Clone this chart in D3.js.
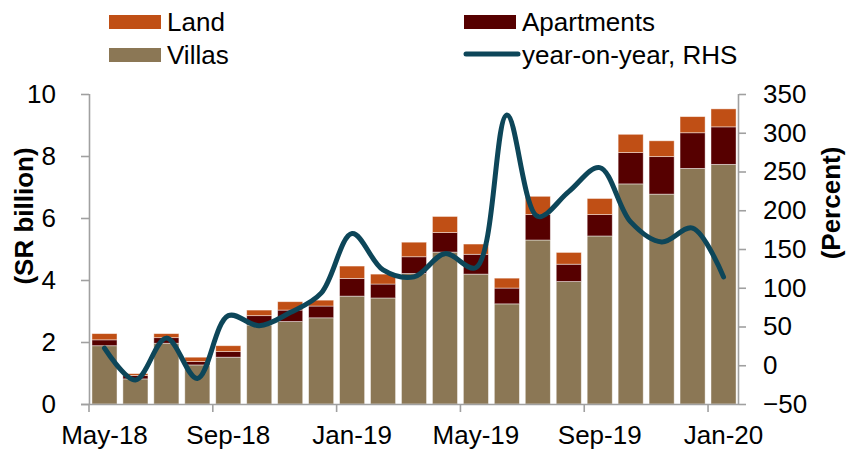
<!DOCTYPE html>
<html><head><meta charset="utf-8">
<script src="https://cdn.jsdelivr.net/npm/d3@7/dist/d3.min.js"></script>
<style>
body{margin:0;background:#fff;}
text{font-family:"Liberation Sans",Arial,sans-serif;fill:#000;}
</style></head>
<body><svg id="c" width="850" height="452"></svg>
<script>
const months = ["May-18","Jun-18","Jul-18","Aug-18","Sep-18","Oct-18","Nov-18","Dec-18","Jan-19","Feb-19","Mar-19","Apr-19","May-19","Jun-19","Jul-19","Aug-19","Sep-19","Oct-19","Nov-19","Dec-19","Jan-20"];
const villas = [1.88,0.81,1.96,1.26,1.51,2.55,2.66,2.78,3.48,3.42,4.21,4.90,4.19,3.23,5.29,3.95,5.42,7.10,6.77,7.60,7.73];
const apartments = [0.19,0.11,0.18,0.11,0.18,0.30,0.37,0.38,0.57,0.45,0.54,0.63,0.64,0.51,0.82,0.56,0.69,1.01,1.21,1.15,1.21];
const land = [0.20,0.06,0.13,0.14,0.19,0.18,0.27,0.19,0.40,0.32,0.47,0.52,0.33,0.32,0.59,0.38,0.52,0.59,0.51,0.52,0.58];
const yoy = [22,-19,35,-17,64,51,68,93,170,123,114,144,126,323,192,224,255,185,159,177,114];
const leftTicks = [0,2,4,6,8,10];
const rightTicks = [-50,0,50,100,150,200,250,300,350];
const xLabels = ["May-18","Sep-18","Jan-19","May-19","Sep-19","Jan-20"];

const colors = {Villas:"#8b7755", Apartments:"#560000", Land:"#c04f15", line:"#0d4659"};
const fs = 26;
const svg = d3.select("#c");
const L = 89, R = 739, T = 94, B = 404;

const pad = 0.19;
const x = d3.scaleBand().domain(months).range([L, R]).paddingInner(pad).paddingOuter(pad/2);
const yL = d3.scaleLinear().domain([0,10]).range([B, T]);
const yR = d3.scaleLinear().domain([-50,350]).range([B, T]);

const table = months.map((m,i)=>({month:m, Villas:villas[i], Apartments:apartments[i], Land:land[i]}));
const keys = ["Villas","Apartments","Land"];
const stack = d3.stack().keys(keys)(table);

svg.append("g").selectAll("g").data(stack).join("g")
  .attr("fill", d=>colors[d.key])
  .selectAll("rect").data(d=>d).join("rect")
  .attr("x", d=>x(d.data.month))
  .attr("width", x.bandwidth())
  .attr("y", d=>yL(d[1]))
  .attr("height", d=>yL(d[0])-yL(d[1]))
  .attr("stroke","rgba(255,255,255,0.55)")
  .attr("stroke-width",0.8);

// axes
const axisColor = "#a0a0a0";
const gl = svg.append("g").attr("transform",`translate(${L},0)`)
  .call(d3.axisLeft(yL).tickValues(leftTicks).tickSize(8).tickSizeOuter(0).tickPadding(25));
const gr = svg.append("g").attr("transform",`translate(${R},0)`)
  .call(d3.axisRight(yR).tickValues(rightTicks).tickSize(7).tickSizeOuter(0).tickPadding(17));
[gl,gr].forEach(g=>{
  g.selectAll("path,line").attr("stroke",axisColor).attr("stroke-width",1.6);
  g.selectAll("text").attr("font-size",fs).attr("font-family","Liberation Sans, Arial, sans-serif").attr("fill","#000");
});
gl.select(".domain").attr("d",`M0.5,${B+0.5}V${T}`);
gr.select(".domain").attr("d",`M-0.5,${B+0.5}V${T}`);

// x axis
const gx = svg.append("g").attr("transform",`translate(0,${B+1})`)
  .call(d3.axisBottom(x).tickValues(xLabels).tickSize(0).tickPadding(21));
gx.select(".domain").remove();
gx.selectAll("text").attr("font-size",fs).attr("font-family","Liberation Sans, Arial, sans-serif").attr("fill","#000");
svg.append("line").attr("x1",L-8).attr("x2",R).attr("y1",B+0.5).attr("y2",B+0.5)
  .attr("stroke",axisColor).attr("stroke-width",1.6);
const step = x.step();
svg.append("g").selectAll("line").data(xLabels).join("line")
  .attr("x1",d=>x(d)-step*pad/2).attr("x2",d=>x(d)-step*pad/2)
  .attr("y1",B).attr("y2",B+8)
  .attr("stroke",axisColor).attr("stroke-width",1.6);

// line
const line = d3.line()
  .x((d,i)=>x(months[i])+x.bandwidth()/2)
  .y(d=>yR(d))
  .curve(d3.curveCatmullRom.alpha(0.5));
svg.append("path").datum(yoy).attr("d",line)
  .attr("fill","none").attr("stroke",colors.line).attr("stroke-width",5)
  .attr("stroke-linecap","round").attr("stroke-linejoin","round");

// axis titles
svg.append("text").attr("transform","translate(33,216) rotate(-90)")
  .attr("text-anchor","middle").attr("font-size",fs).attr("font-weight","bold").text("(SR billion)");
svg.append("text").attr("transform","translate(840,203) rotate(-90)")
  .attr("text-anchor","middle").attr("font-size",fs).attr("font-weight","bold").text("(Percent)");

// legend
const leg = [
  {name:"Land", type:"rect", c:colors.Land, x:109, y:15},
  {name:"Apartments", type:"rect", c:colors.Apartments, x:464, y:15},
  {name:"Villas", type:"rect", c:colors.Villas, x:109, y:48},
  {name:"year-on-year, RHS", type:"line", c:colors.line, x:464, y:48}
];
leg.forEach(d=>{
  if(d.type==="rect"){
    svg.append("rect").attr("x",d.x).attr("y",d.y).attr("width",52).attr("height",14).attr("fill",d.c);
  } else {
    svg.append("line").attr("x1",d.x+2).attr("x2",d.x+54).attr("y1",d.y+6).attr("y2",d.y+6)
      .attr("stroke",d.c).attr("stroke-width",5).attr("stroke-linecap","round");
  }
  svg.append("text").attr("x",d.x+58).attr("y",d.y+16).attr("font-size",fs).text(d.name);
});
</script></body></html>
